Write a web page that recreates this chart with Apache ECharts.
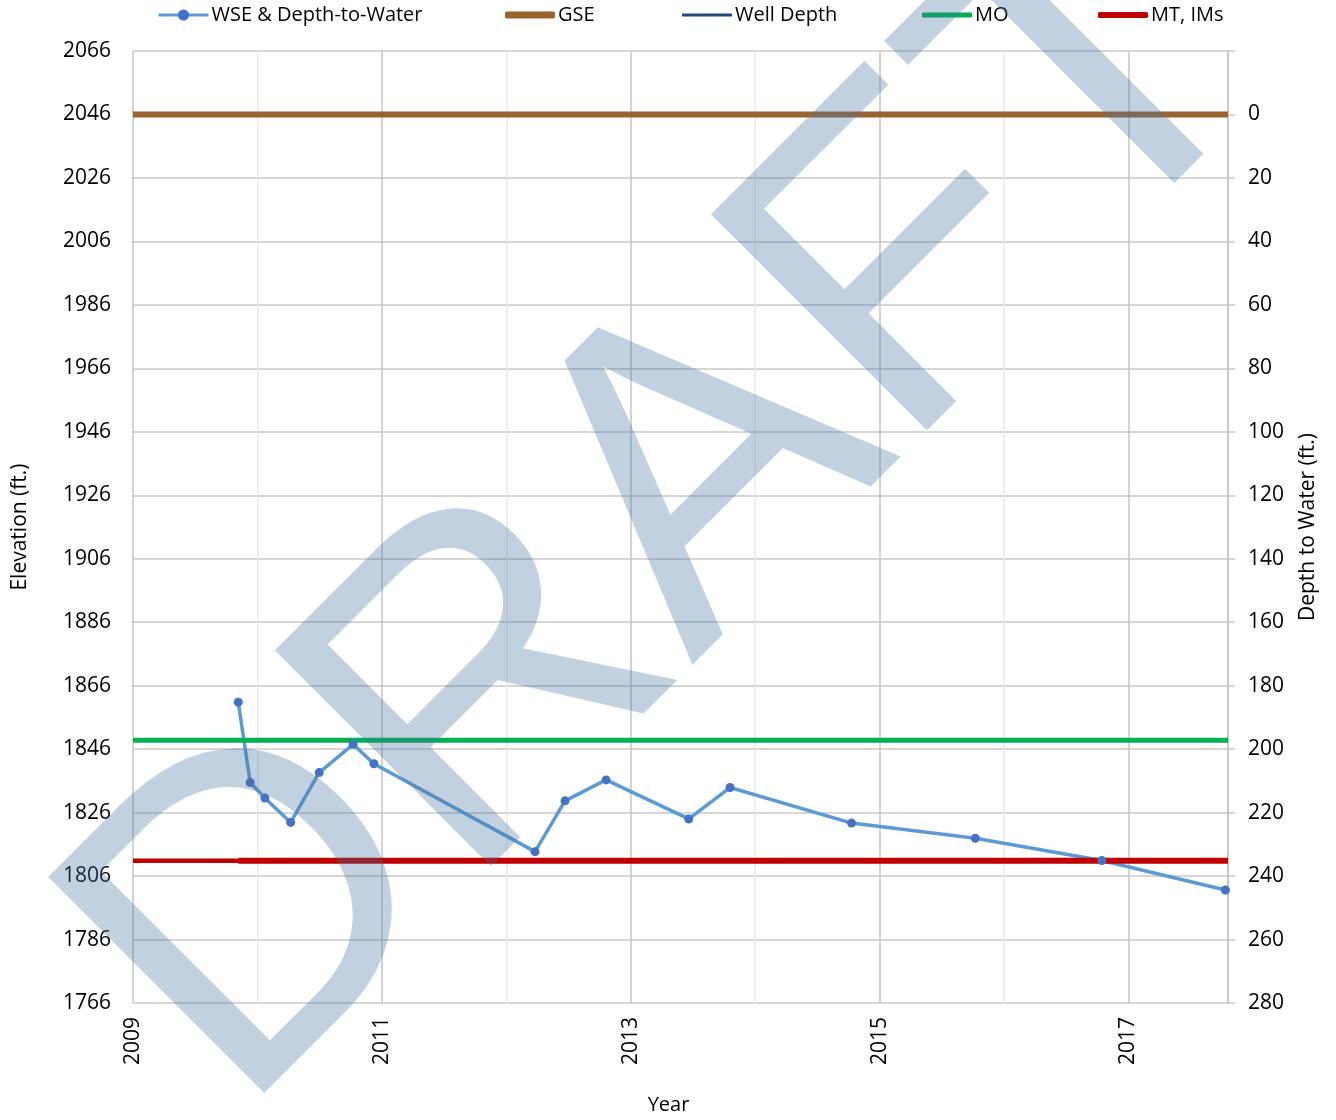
<!DOCTYPE html>
<html>
<head>
<meta charset="utf-8">
<title>Hydrograph</title>
<script src="https://cdn.jsdelivr.net/npm/echarts@6.0.0/dist/echarts.min.js"></script>
<style>
html, body { margin: 0; padding: 0; background: #fff; }
#chart { width: 1336px; height: 1120px; }
</style>
</head>
<body>
<div id="chart"></div>
<script>
// ground surface elevation (ft), this is depth 0 on the right axis
var gseElev = 2046;

// measurements: decimal year and depth to water (ft)
var sampleYears = [2009.846, 2009.942, 2010.060, 2010.267, 2010.496, 2010.769, 2010.936,
                   2012.231, 2012.472, 2012.802, 2013.466, 2013.798, 2014.775, 2015.769,
                   2016.786, 2017.779];
var depthToWater = [185.2, 210.5, 215.4, 223.1, 207.4, 198.5, 204.6,
                    232.3, 216.3, 209.7, 222.0, 212.1, 223.3, 228.1,
                    235.1, 244.4];

// reference lines (depth, ft)
var gseDepth = 0;
var moDepth = 197.2;
var mtDepth = 235.2;
var lineYears = [2009, 2017.8];
var imYears = [2009.846, 2017.8];

// tick labels
var yearLabels = [2009, 2011, 2013, 2015, 2017];

var FONT = '"Open Sans", "Noto Sans", sans-serif';
var gridColor = '#c8c8c8';

function flat(years, depth) {
  return years.map(function (y) { return [y, depth]; });
}

// one legend per entry so each sits where the original has it
function mkLegend(name, left, extra) {
  var lg = {
    data: [name],
    left: left,
    top: 0,
    itemWidth: 50,
    itemHeight: 14,
    itemGap: 0,
    textStyle: { fontFamily: FONT, fontSize: 20, color: '#000', padding: [0, 0, 0, -2] }
  };
  for (var k in extra) lg[k] = extra[k];
  return lg;
}

var myChart = echarts.init(document.getElementById('chart'));

var option = {
  animation: false,
  backgroundColor: '#fff',
  grid: { left: 133, right: 108, top: 51, bottom: 116 },
  legend: [
    mkLegend('WSE & Depth-to-Water', 152, { lineStyle: { width: 3 } }),
    mkLegend('GSE', 500, { icon: 'roundRect', itemHeight: 7 }),
    mkLegend('Well Depth', 677, { icon: 'roundRect', itemHeight: 3 }),
    mkLegend('MO', 917, { icon: 'roundRect', itemHeight: 5 }),
    mkLegend('MT, IMs', 1093, { icon: 'roundRect', itemHeight: 6 })
  ],
  xAxis: {
    type: 'value',
    min: 2009,
    max: 2017.8,
    interval: 1,
    name: 'Year',
    nameLocation: 'middle',
    nameGap: 92,
    nameTextStyle: { fontFamily: FONT, fontSize: 20, color: '#000', padding: [0, 24, 0, 0] },
    axisLine: { show: true, lineStyle: { color: gridColor, width: 2 } },
    axisTick: { show: false },
    axisLabel: {
      rotate: 90,
      margin: 14,
      fontFamily: FONT,
      fontSize: 21,
      color: '#000',
      formatter: function (v) { return yearLabels.indexOf(v) >= 0 ? String(v) : ''; }
    },
    splitLine: { show: true, lineStyle: { color: ['#c4c4c4', '#e8e8e8'], width: 1.5 } }
  },
  yAxis: [
    {
      type: 'value',
      position: 'left',
      min: -20,
      max: 280,
      interval: 20,
      inverse: true,
      name: 'Elevation (ft.)',
      nameLocation: 'middle',
      nameRotate: 90,
      nameGap: 102,
      nameTextStyle: { fontFamily: FONT, fontSize: 21, color: '#000' },
      axisLine: { show: false },
      axisTick: { show: false },
      axisLabel: {
        margin: 22,
        fontFamily: FONT,
        fontSize: 21,
        color: '#000',
        formatter: function (v) { return String(gseElev - v); }
      },
      splitLine: { show: true, lineStyle: { color: gridColor, width: 1.5 } }
    },
    {
      type: 'value',
      position: 'right',
      min: -20,
      max: 280,
      interval: 20,
      inverse: true,
      name: 'Depth to Water (ft.)',
      nameLocation: 'middle',
      nameRotate: 90,
      nameGap: 70,
      nameTextStyle: { fontFamily: FONT, fontSize: 21, color: '#000' },
      axisLine: { show: true, lineStyle: { color: gridColor, width: 2 } },
      axisTick: { show: true, length: 7, lineStyle: { color: gridColor, width: 1.5 } },
      axisLabel: {
        margin: 20,
        fontFamily: FONT,
        fontSize: 21,
        color: '#000',
        formatter: function (v) { return v < 0 ? '' : String(v); }
      },
      splitLine: { show: false }
    }
  ],
  series: [
    {
      name: 'WSE & Depth-to-Water',
      type: 'line',
      yAxisIndex: 1,
      data: sampleYears.map(function (y, i) { return [y, depthToWater[i]]; }),
      symbol: 'circle',
      symbolSize: 9,
      lineStyle: { color: '#5b9bd5', width: 3.5 },
      itemStyle: { color: '#4472c4' }
    },
    {
      name: 'GSE',
      type: 'line',
      yAxisIndex: 1,
      data: flat(lineYears, gseDepth),
      symbol: 'none',
      lineStyle: { color: '#9a6330', width: 6 },
      itemStyle: { color: '#9a6330' }
    },
    {
      name: 'Well Depth',
      type: 'line',
      yAxisIndex: 1,
      data: [],
      symbol: 'none',
      lineStyle: { color: '#264478', width: 3 },
      itemStyle: { color: '#264478' }
    },
    {
      name: 'MO',
      type: 'line',
      yAxisIndex: 1,
      data: flat(lineYears, moDepth),
      symbol: 'none',
      lineStyle: { color: '#00b050', width: 5 },
      itemStyle: { color: '#00b050' }
    },
    {
      name: 'MT, IMs',
      type: 'line',
      yAxisIndex: 1,
      data: flat(lineYears, mtDepth),
      symbol: 'none',
      lineStyle: { color: '#c00000', width: 4.5 },
      itemStyle: { color: '#c00000' }
    },
    {
      name: 'MT, IMs',
      type: 'line',
      yAxisIndex: 1,
      data: flat(imYears, mtDepth),
      symbol: 'none',
      lineStyle: { color: '#c00000', width: 6 },
      itemStyle: { color: '#c00000' }
    }
  ],
  graphic: [
    {
      type: 'text',
      x: 675,
      y: 509,
      rotation: Math.PI / 4,
      z: 100,
      silent: true,
      style: {
        text: 'DRAFT',
        font: '444px "Liberation Sans"',
        fill: 'rgba(68,114,160,0.33)',
        align: 'center',
        verticalAlign: 'middle'
      }
    }
  ]
};

myChart.setOption(option);
</script>
</body>
</html>
